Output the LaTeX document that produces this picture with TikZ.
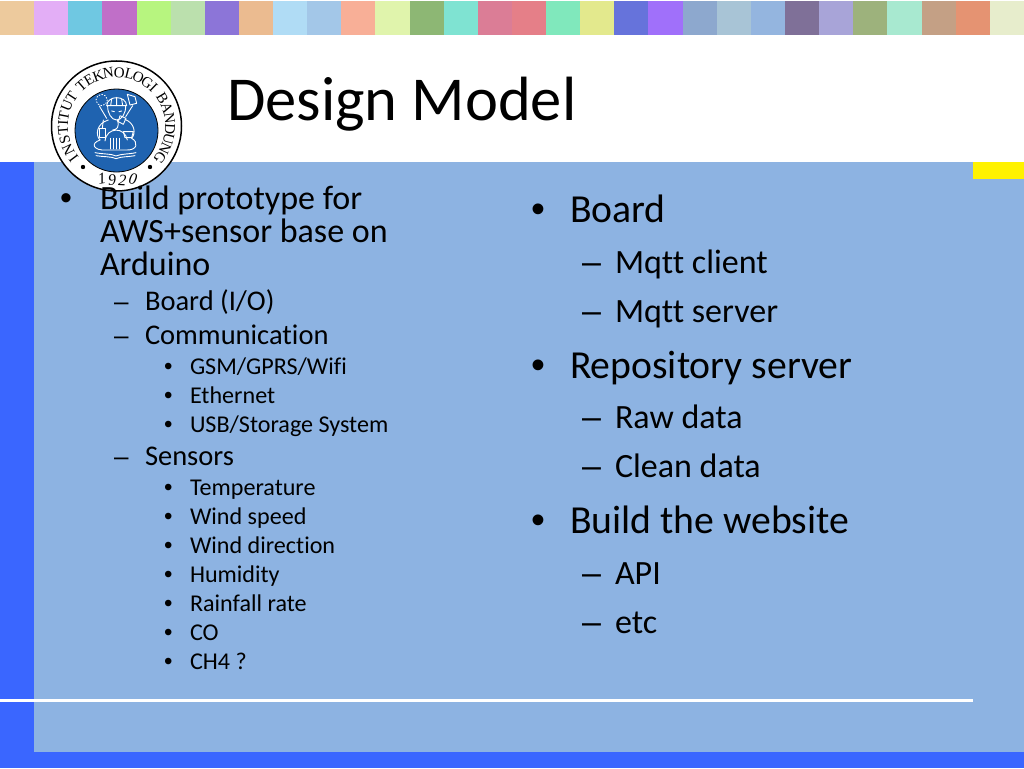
\documentclass[tikz,border=0pt]{standalone}
\usepackage{fontspec}
\setmainfont{Carlito}[Ligatures=NoCommon]
\newfontfamily\serifseal{Liberation Serif}
\newfontfamily\markfont{Liberation Sans}
\definecolor{mainblue}{HTML}{8DB3E2}
\definecolor{sideblue}{HTML}{3A66FF}
\definecolor{sealblue}{HTML}{1F63B0}
\tikzset{
  lineA/.style={anchor=base west,inner sep=0pt,outer sep=0pt,text=black,font=\fontsize{34}{34}\selectfont},
  lineB/.style={lineA,font=\fontsize{28.5}{28.5}\selectfont},
  lineC/.style={lineA,font=\fontsize{24.1}{24.1}\selectfont},
  rightA/.style={lineA,font=\fontsize{39.7}{39.7}\selectfont},
  rightB/.style={lineA,font=\fontsize{34}{34}\selectfont},
  markA/.style={lineA,font=\markfont\fontsize{34}{34}\selectfont},
  markB/.style={lineA,font=\markfont\fontsize{26}{26}\selectfont},
  markC/.style={lineA,font=\markfont\fontsize{24.1}{24.1}\selectfont},
  markRA/.style={lineA,font=\markfont\fontsize{39.7}{39.7}\selectfont},
  markRB/.style={lineA,font=\markfont\fontsize{34}{34}\selectfont},
  seal/.style={draw=white,line width=0.9pt,line cap=round,line join=round},
}
\begin{document}
\begin{tikzpicture}[x=1pt,y=-1pt]
\useasboundingbox (0,0) rectangle (1024,768);
\fill[white] (0,0) rectangle (1024,768);
\foreach \c [count=\i from 0] in {EDCA9D,E3AEF6,6FC8E2,C06FC8,B7F57F,BBE0AD,8C75D8,EBBB90,B0DCF5,A3C7E8,F8AF97,E0F4AC,8DB774,7FE3D2,DB7D96,E57F88,80E8BC,E3E98D,6673DB,A070FA,8DA8CE,A8C4D6,94B5DF,7F7098,A8A4D8,9DB27C,A8E9D0,C4A085,E59372,E7EDCC}{
  \definecolor{sw}{HTML}{\c}
  \fill[sw] ({\i*34.13},1) rectangle ({(\i+1)*34.13},35);
}
% background panels
\fill[sideblue] (0,162) rectangle (1024,768);
\fill[mainblue] (34,162) rectangle (1024,752);
\fill[yellow] (973,162) rectangle (1024,179);
\draw[white,line width=3pt] (0,700) -- (972.5,700);
% seal
\fill[white] (116.5,126) circle[radius=65.5];
\draw[black,line width=1.5pt] (116.5,126) circle[radius=65];
\fill[sealblue] (116.5,130.5) circle[radius=41.5];
\draw[black,line width=0.8pt] (116.5,130.5) circle[radius=41.5];
\begin{scope}[shift={(70,85)},x=0.3333pt,y=-0.3333pt,seal]
  \draw (110,62) .. controls (112,30) and (168,30) .. (170,62) -- cycle;
  \draw (125,42) -- (122,62) (140,37) -- (140,62) (155,42) -- (158,62);
  \draw (113,62) .. controls (112,85) and (125,105) .. (140,105) .. controls (155,105) and (168,85) .. (167,62);
  \draw (125,78) -- (133,80) (147,80) -- (155,78);
  \draw (142,105) .. controls (150,125) and (140,135) .. (128,135);
  \draw[dotted] (95,45) circle[radius=17];
  \draw (110,100) -- (88,63);
  \draw (172,28) -- (195,35) -- (200,55) -- (180,60) -- cycle;
  \draw (167,95) -- (188,62);
  \draw (150,92) -- (168,100) -- (160,118) -- (145,110) -- cycle;
  \draw (115,105) .. controls (80,115) and (75,150) .. (90,165);
  \draw (165,103) .. controls (195,115) and (198,145) .. (185,160);
  \draw (105,168) .. controls (110,125) and (165,125) .. (172,165);
  \draw (88,130) -- (88,158) -- (105,158) -- (105,130) -- cycle;
  \draw (97,130) -- (100,105);
  \draw (160,140) -- (190,140) -- (185,158) -- (165,158) -- cycle;
  \draw (90,165) .. controls (60,175) and (70,198) .. (110,195) -- (165,195) .. controls (205,198) and (205,170) .. (185,160);
  \draw (122,160) -- (122,192) (131,160) -- (131,192) (140,160) -- (140,192) (149,160) -- (149,192);
  \draw (75,203) .. controls (100,208) and (125,206) .. (138,213) .. controls (155,206) and (175,208) .. (198,203);
  \draw (78,212) .. controls (100,216) and (125,214) .. (138,221) .. controls (155,214) and (175,216) .. (195,212);
\end{scope}
\foreach \ch/\a in {I/-127,N/-116,S/-105,T/-95,I/-87,T/-79,U/-68,T/-57,T/-41,E/-31,K/-20,N/-9,O/3,L/14,O/24,G/35,I/44,B/59,A/70,N/82,D/93,U/104,N/115,G/126}{
  \node[inner sep=0pt,rotate=-\a,font=\serifseal\fontsize{15}{15}\selectfont] at ({116.5+53.5*sin(\a)},{126-53.5*cos(\a)}) {\ch};
}
\fill[black] (83,167) circle[radius=2.2] (150,167) circle[radius=2.2];
\foreach \ch/\px/\py/\r in {1/102/179/10,9/112/180.5/3,2/122.5/180.5/-3,0/133/179/-10}{
  \node[inner sep=0pt,rotate=\r,font=\serifseal\itshape\fontsize{16}{16}\selectfont] at (\px,\py) {\ch};
}
% title
\node[lineA,font=\fontsize{62.5}{62.5}\selectfont] (title) at (227,120) {Design Model};
% left column
\node[markA] (bA) at (60,209) {•};
\node[lineA] (l1) at (100,209) {Build prototype for};
\node[lineA] (l2) at (100,242) {AWS+sensor base on};
\node[lineA] (l3) at (100,275) {Arduino};
\node[markB] (dA) at (114,310) {–};
\node[lineB] (l4) at (145,310) {Board (I/O)};
\node[markB] (dB) at (114,344) {–};
\node[lineB] (l5) at (145,344) {Communication};
\node[markC] (c1) at (164,374) {•}; \node[lineC] (t1) at (190,374) {GSM/GPRS/Wifi};
\node[markC] (c2) at (164,403) {•}; \node[lineC] (t2) at (190,403) {Ethernet};
\node[markC] (c3) at (164,432) {•}; \node[lineC] (t3) at (190,432) {USB/Storage System};
\node[markB] (dC) at (114,465) {–};
\node[lineB] (l6) at (145,465) {Sensors};
\node[markC] (c4) at (164,495) {•}; \node[lineC] (t4) at (190,495) {Temperature};
\node[markC] (c5) at (164,524) {•}; \node[lineC] (t5) at (190,524) {Wind speed};
\node[markC] (c6) at (164,553) {•}; \node[lineC] (t6) at (190,553) {Wind direction};
\node[markC] (c7) at (164,582) {•}; \node[lineC] (t7) at (190,582) {Humidity};
\node[markC] (c8) at (164,611) {•}; \node[lineC] (t8) at (190,611) {Rainfall rate};
\node[markC] (c9) at (164,640) {•}; \node[lineC] (t9) at (190,640) {CO};
\node[markC] (c10) at (164,669) {•}; \node[lineC] (t10) at (190,669) {CH4 ?};
% right column
\node[markRA] (rb1) at (531,222) {•}; \node[rightA] (r1) at (570,222) {Board};
\node[markRB] (rd1) at (582,273) {–}; \node[rightB] (r2) at (615,273) {Mqtt client};
\node[markRB] (rd2) at (582,322) {–}; \node[rightB] (r3) at (615,322) {Mqtt server};
\node[markRA] (rb2) at (531,378) {•}; \node[rightA] (r4) at (570,378) {Repository server};
\node[markRB] (rd3) at (582,428) {–}; \node[rightB] (r5) at (615,428) {Raw data};
\node[markRB] (rd4) at (582,477) {–}; \node[rightB] (r6) at (615,477) {Clean data};
\node[markRA] (rb3) at (531,533) {•}; \node[rightA] (r7) at (570,533) {Build the website};
\node[markRB] (rd5) at (582,584) {–}; \node[rightB] (r8) at (615,584) {API};
\node[markRB] (rd6) at (582,633) {–}; \node[rightB] (r9) at (615,633) {etc};
\end{tikzpicture}
\end{document}
